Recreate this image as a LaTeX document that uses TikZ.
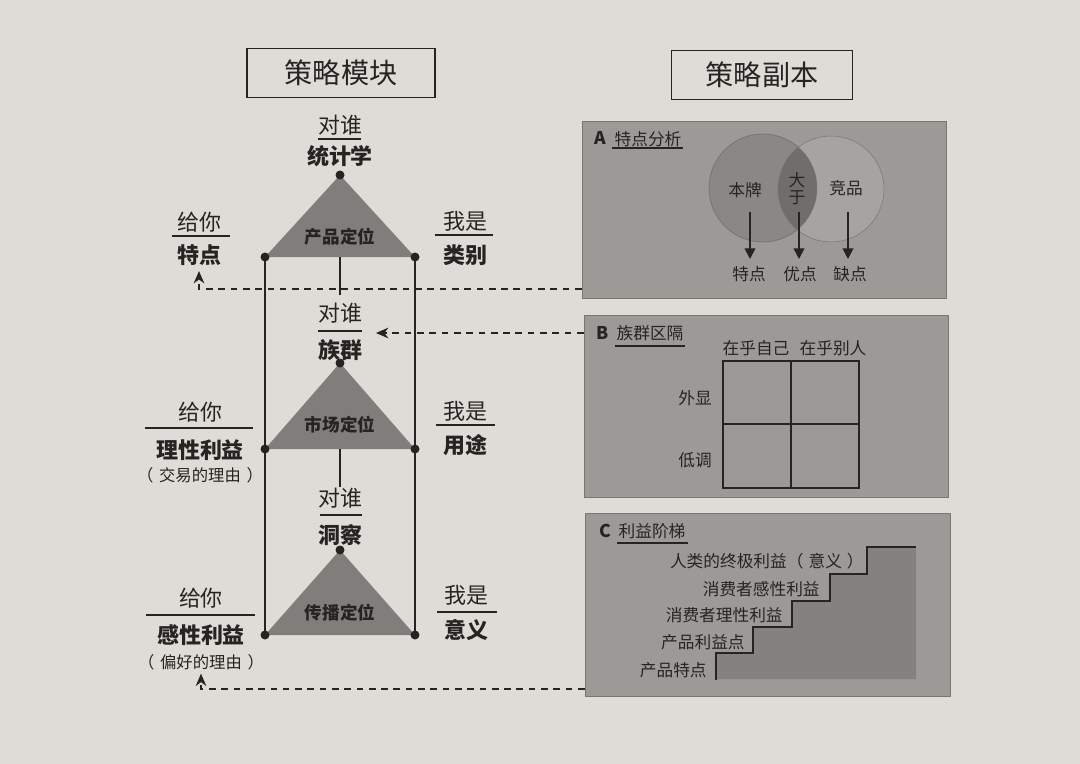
\documentclass[tikz,border=0pt]{standalone}
\usepackage{fontspec}
\setmainfont{Noto Sans CJK SC}
\usetikzlibrary{arrows.meta,fit,calc}
\definecolor{paper}{RGB}{222,220,215}
\definecolor{panelgray}{RGB}{156,154,151}
\definecolor{paneledge}{RGB}{120,118,115}
\definecolor{trigray}{RGB}{128,126,123}
\definecolor{ink}{RGB}{38,36,34}
\definecolor{circA}{RGB}{138,136,133}
\definecolor{circB}{RGB}{166,164,161}
\definecolor{circAB}{RGB}{112,110,107}
\definecolor{stairgray}{RGB}{132,130,127}
\newcommand\myfs[1]{\fontsize{#1}{#1}\selectfont}
\begin{document}
\begin{tikzpicture}[x=0.02cm,y=-0.02cm,
  lbl/.style={inner sep=0pt, text=ink, font=\myfs{12.5}},
  blbl/.style={inner sep=0pt, text=ink, font=\myfs{12.5}\bfseries},
  note/.style={inner sep=0pt, text=ink, font=\myfs{9.3}},
  trilbl/.style={inner sep=0pt, text=ink, font=\myfs{10}\bfseries},
  plbl/.style={inner sep=0pt, text=ink, font=\myfs{9.5}},
  pletter/.style={inner sep=0pt, text=ink, font=\myfs{10}\bfseries},
  titlebox/.style={draw=ink, line width=0.6pt, text=ink, font=\myfs{16}, inner sep=0pt},
  rule/.style={draw=ink, line width=1pt},
  thinrule/.style={draw=ink, line width=0.8pt},
  dotnode/.style={circle, fill=ink, inner sep=0pt, minimum size=0.18cm},
  panel/.style={fill=panelgray, draw=paneledge, line width=0.4pt, inner sep=0pt},
  dashconn/.style={draw=ink, line width=1pt, dash pattern=on 3.8pt off 3.2pt,
     -{Stealth[length=7pt,width=6pt,inset=2.2pt]}},
  vennarrow/.style={draw=ink, line width=1pt, -{Triangle[length=6pt,width=6pt]}},
]
% background / bounding box
\fill[paper] (0,0) rectangle (1080,764);
\useasboundingbox (0,0) rectangle (1080,764);

% title boxes
\node[titlebox, minimum width=3.76cm, minimum height=0.98cm] (tl) at (341,73) {策略模块};
\node[titlebox, minimum width=3.62cm, minimum height=0.98cm] (tr) at (762,75) {策略副本};

% ---------------- left module ----------------
\coordinate (T1a) at (340,175); \coordinate (T1l) at (265,257); \coordinate (T1r) at (415,257);
\coordinate (T2a) at (340,363); \coordinate (T2l) at (265,449); \coordinate (T2r) at (415,449);
\coordinate (T3a) at (340,550); \coordinate (T3l) at (265,635); \coordinate (T3r) at (415,635);
\fill[trigray] (T1a) -- (T1l) -- (T1r) -- cycle;
\fill[trigray] (T2a) -- (T2l) -- (T2r) -- cycle;
\fill[trigray] (T3a) -- (T3l) -- (T3r) -- cycle;

\node[trilbl] (p1) at (340,237) {产品定位};
\node[trilbl] (p2) at (340,425) {市场定位};
\node[trilbl] (p3) at (340,613) {传播定位};

% stubs below triangles
\coordinate (c1s) at (340,257); \coordinate (c1e) at (340,295);
\coordinate (c2s) at (340,449); \coordinate (c2e) at (340,487);
\draw[rule] (c1s) -- (c1e);
\draw[rule] (c2s) -- (c2e);

% side verticals
\draw[rule] (T1l) -- (T3l);
\draw[rule] (T1r) -- (T3r);

% dots
\node[dotnode] (d1a) at (T1a) {}; \node[dotnode] (d1l) at (T1l) {}; \node[dotnode] (d1r) at (T1r) {};
\node[dotnode] (d2a) at (T2a) {}; \node[dotnode] (d2l) at (T2l) {}; \node[dotnode] (d2r) at (T2r) {};
\node[dotnode] (d3a) at (T3a) {}; \node[dotnode] (d3l) at (T3l) {}; \node[dotnode] (d3r) at (T3r) {};

% top labels (对谁)
\node[lbl] (q1) at (340,125) {对谁};
\node[blbl] (s1) at (340,156) {统计学};
\draw[thinrule] (318,139) -- (361,139);
\node[lbl] (q2) at (340,313) {对谁};
\node[blbl] (s2) at (340,350) {族群};
\draw[thinrule] (318,331) -- (362,331);
\node[lbl] (q3) at (340,498) {对谁};
\node[blbl] (s3) at (340,535) {洞察};
\draw[thinrule] (320,515) -- (362,515);

% left labels (给你)
\node[lbl] (g1) at (199,222) {给你};
\node[blbl] (t1) at (199,255) {特点};
\draw[thinrule] (172,236) -- (230,236);
\node[lbl] (g2) at (200,412) {给你};
\node[blbl] (t2) at (200,450) {理性利益};
\draw[thinrule] (145,428) -- (253,428);
\node[note] (r2) at (200,475) {（\hspace{0.35em}交易的理由\hspace{0.35em}）};
\node[lbl] (g3) at (201,598) {给你};
\node[blbl] (t3) at (201,635) {感性利益};
\draw[thinrule] (146,615) -- (255,615);
\node[note] (r3) at (201,662) {（\hspace{0.35em}偏好的理由\hspace{0.35em}）};

% right labels (我是)
\node[lbl] (w1) at (465,221) {我是};
\node[blbl] (c1) at (465,255) {类别};
\draw[thinrule] (435,235) -- (493,235);
\node[lbl] (w2) at (465,411) {我是};
\node[blbl] (c2) at (465,445) {用途};
\draw[thinrule] (436,425) -- (495,425);
\node[lbl] (w3) at (466,595) {我是};
\node[blbl] (c3) at (466,630) {意义};
\draw[thinrule] (437,612) -- (497,612);

% ---------------- right panels ----------------
\node[panel, fit={(582,121) (946,298)}] (pA) {};
\node[panel, fit={(584,315) (948,497)}] (pB) {};
\node[panel, fit={(585,513) (950,696)}] (pC) {};

% Panel A
\node[pletter] (la) at (600,138) {A};
\node[plbl] (ha) at (648,139) {特点分析};
\draw[thinrule] (612,148) -- (683,148);
\node[circle, fill=circA, draw=paneledge, line width=0.3pt, inner sep=0pt, minimum size=2.16cm] (cA) at (763,188) {};
\node[circle, fill=circB, draw=paneledge, line width=0.3pt, inner sep=0pt, minimum size=2.12cm] (cB) at (831,189) {};
\begin{scope}
  \clip (cA.center) circle (1.08cm);
  \fill[circAB] (cB.center) circle (1.06cm);
\end{scope}
\draw[paneledge, line width=0.3pt] (cA.center) circle (1.08cm);
\node[plbl] (vb) at (745,190) {本牌};
\node[plbl] (vd1) at (797,180) {大};
\node[plbl] (vd2) at (797,198) {于};
\node[plbl] (vj) at (846,188) {竞品};
\coordinate (a1s) at (750,212); \coordinate (a2s) at (799,212); \coordinate (a3s) at (848,212);
\coordinate (a1e) at (750,259); \coordinate (a2e) at (799,259); \coordinate (a3e) at (848,259);
\node[plbl] (o1) at (749,274) {特点};
\node[plbl] (o2) at (800,274) {优点};
\node[plbl] (o3) at (850,274) {缺点};
\draw[vennarrow] (a1s) -- (a1e);
\draw[vennarrow] (a2s) -- (a2e);
\draw[vennarrow] (a3s) -- (a3e);

% Panel B
\node[pletter] (lb) at (603,333) {B};
\node[plbl] (hb) at (650,333) {族群区隔};
\draw[thinrule] (615,346) -- (685,346);
\draw[rule] (723,361) rectangle (859,488);
\draw[rule] (791,361) -- (791,488);
\draw[rule] (723,424) -- (859,424);
\node[plbl] (bx1) at (756,348) {在乎自己};
\node[plbl] (bx2) at (833,348) {在乎别人};
\node[plbl] (by1) at (695,398) {外显};
\node[plbl] (by2) at (695,460) {低调};

% Panel C
\node[pletter] (lc) at (605,531) {C};
\node[plbl] (hc) at (652,531) {利益阶梯};
\draw[thinrule] (617,543) -- (688,543);
\fill[stairgray] (716,679) -- (716,653) -- (753,653) -- (753,627) -- (792,627) -- (792,601)
  -- (830,601) -- (830,574) -- (867,574) -- (867,547) -- (916,547) -- (916,679) -- cycle;
\draw[rule] (716,680) -- (716,653) -- (753,653) -- (753,627) -- (792,627) -- (792,601)
  -- (830,601) -- (830,574) -- (867,574) -- (867,547) -- (916,547);
\node[plbl, anchor=east] (st5) at (864,561) {人类的终极利益（\hspace{0.3em}意义\hspace{0.3em}）};
\node[plbl, anchor=east] (st4) at (820,589) {消费者感性利益};
\node[plbl, anchor=east] (st3) at (783,615) {消费者理性利益};
\node[plbl, anchor=east] (st2) at (745,642) {产品利益点};
\node[plbl, anchor=east] (st1) at (707,670) {产品特点};

% ---------------- dashed connectors ----------------
\coordinate (ya) at (0,289);
\coordinate (yb) at (0,333);
\coordinate (yc) at (0,689);
\coordinate (bTip) at (376,333);
\draw[dashconn, shorten >=3pt] (pA.west |- ya) -| (t1.south);
\draw[dashconn] (pB.west |- yb) -- (bTip);
\draw[dashconn, shorten >=2pt] (pC.west |- yc) -| (r3.south);
\end{tikzpicture}
\end{document}
